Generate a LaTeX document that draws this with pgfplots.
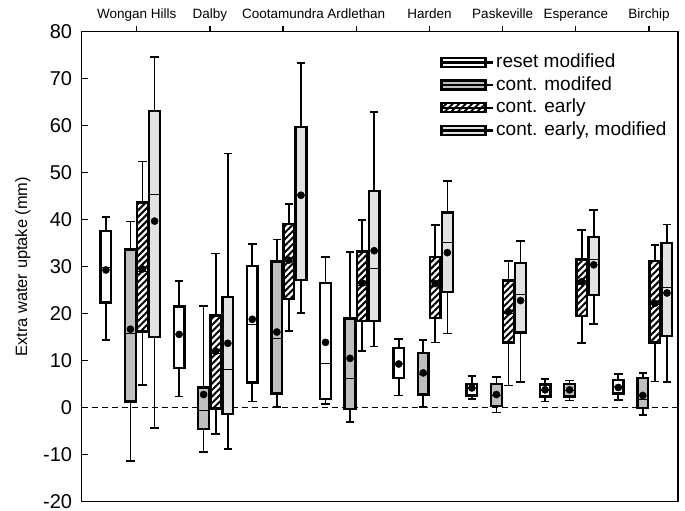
\documentclass[border=0pt]{standalone}
\usepackage{fontspec}
\setmainfont{Liberation Sans}
\usepackage{pgfplots}
\pgfplotsset{compat=1.18}
\usepgfplotslibrary{statistics}
\usetikzlibrary{patterns.meta}
\definecolor{gmid}{HTML}{BEBEBE}
\definecolor{glight}{HTML}{E2E2E2}
\pgfplotsset{
  rs/.style={draw=black, fill=white, line width=2.4pt},
  cm/.style={draw=black, fill=gmid, line width=2.4pt},
  ce/.style={draw=black, pattern={Lines[angle=45,distance=4.6pt,line width=2pt]}, pattern color=black, line width=2.4pt},
  cem/.style={draw=black, fill=glight, line width=2.4pt},
}
\newcommand{\bp}[7]{\addplot[#7, forget plot, boxplot prepared={draw position=#1, lower whisker=#2, lower quartile=#3, median=#4, upper quartile=#5, upper whisker=#6}] coordinates {};}
\begin{document}
\begin{tikzpicture}
\begin{axis}[name=ax,
  scale only axis, width=596.3pt, height=470pt,
  xmin=0.249, xmax=8.396, ymin=-20, ymax=80,
  xtick={1,...,8},
  xticklabels={Wongan Hills, Dalby, Cootamundra, Ardlethan, Harden, Paskeville, Esperance, Birchip},
  xtick pos=right, xticklabel pos=right,
  ytick={-20,-10,...,80}, ytick pos=left,
  minor tick num=0,
  tick align=inside, major tick length=6pt,
  xtick style={yshift=6pt, line width=1.3pt, black},
  ytick style={line width=1.3pt, black},
  axis line style={line width=1.3pt},
  /pgf/number format/assume math mode=true,
  xticklabel style={font=\fontsize{13.5}{16}\selectfont, anchor=base, inner sep=0pt, yshift=13.4pt},
  yticklabel style={font=\fontsize{20}{24}\selectfont, anchor=east, inner sep=0pt, xshift=-9.5pt},
  ylabel={Extra water uptake (mm)},
  ylabel style={font=\fontsize{16.4}{19}\selectfont, at={(axis description cs:-0.0917,0.5)}, anchor=base},
  boxplot/draw direction=y,
  boxplot/box extend=0.146,
  boxplot/every whisker/.style={line width=1.7pt},
  boxplot/every median/.style={line width=1pt},
  legend image code/.code={\draw[#1] (0pt,-4.5pt) rectangle (44pt,4.5pt); \path (0pt,0pt) -- (52pt,0pt);},
  legend style={at={(0.596,0.963)}, anchor=north west, draw=none, fill=none,
    font=\fontsize{19}{22}\selectfont, row sep=0pt,
    nodes={inner sep=1.5pt, text height=15pt, text depth=4.6pt}},
  legend cell align=left,
  clip=false,
]
\addlegendimage{rs}
\addlegendentry{reset modified}
\addlegendimage{cm}
\addlegendentry{cont. modifed}
\addlegendimage{ce}
\addlegendentry{cont. early}
\addlegendimage{cem}
\addlegendentry{cont. early, modified}

\addplot[forget plot, black, line width=1pt, dash pattern=on 6pt off 4pt] coordinates {(0.249,0) (8.396,0)};

% means of cont. early (drawn beneath the hatching)
\addplot[forget plot, only marks, mark=*, mark size=3.6pt, black] coordinates {
(1.08,29.5) (2.08,12.0) (3.08,31.4) (4.08,26.5) (5.08,26.4) (6.08,20.4) (7.08,26.8) (8.08,22.2)};

% reset modified
\bp{0.58}{14.4}{22.4}{29.9}{37.6}{40.6}{rs}
\bp{1.58}{2.4}{8.4}{15.5}{21.5}{27.0}{rs}
\bp{2.58}{1.3}{5.4}{17.8}{30.2}{34.8}{rs}
\bp{3.58}{0.8}{1.8}{9.3}{26.5}{32.0}{rs}
\bp{4.58}{2.6}{6.3}{9.3}{12.7}{14.6}{rs}
\bp{5.58}{1.8}{2.6}{4.0}{5.1}{6.8}{rs}
\bp{6.58}{1.3}{2.4}{3.7}{4.9}{6.1}{rs}
\bp{7.58}{1.7}{3.0}{4.5}{5.9}{7.2}{rs}
% cont. modifed
\bp{0.915}{-11.4}{1.3}{15.7}{33.7}{39.6}{cm}
\bp{1.915}{-9.5}{-4.5}{-0.6}{4.3}{21.7}{cm}
\bp{2.915}{0.1}{3.0}{14.8}{31.1}{35.8}{cm}
\bp{3.915}{-3.0}{-0.3}{6.3}{19.0}{33.2}{cm}
\bp{4.915}{0.1}{2.8}{7.0}{11.6}{14.4}{cm}
\bp{5.915}{-1.0}{0.4}{2.5}{5.0}{6.5}{cm}
\bp{6.915}{1.5}{2.4}{3.7}{5.0}{5.8}{cm}
\bp{7.915}{-1.5}{-0.1}{1.7}{6.3}{7.4}{cm}
% cont. early
\bp{1.08}{4.9}{16.2}{29.0}{43.7}{52.4}{ce}
\bp{2.08}{-5.6}{-0.2}{11.5}{19.6}{32.8}{ce}
\bp{3.08}{16.3}{23.1}{31.0}{39.1}{43.4}{ce}
\bp{4.08}{12.0}{18.4}{26.0}{33.2}{39.9}{ce}
\bp{5.08}{13.9}{19.1}{26.0}{32.1}{38.9}{ce}
\bp{6.08}{4.7}{13.9}{20.0}{27.1}{31.2}{ce}
\bp{7.08}{13.7}{19.5}{27.0}{31.5}{37.8}{ce}
\bp{8.08}{5.6}{13.9}{22.0}{31.2}{34.6}{ce}
% cont. early, modified
\bp{1.245}{-4.3}{15.1}{45.4}{63.1}{74.6}{cem}
\bp{2.245}{-8.8}{-1.3}{8.2}{23.6}{54.1}{cem}
\bp{3.245}{20.2}{27.2}{45.2}{59.7}{73.3}{cem}
\bp{4.245}{13.0}{18.5}{29.7}{46.1}{62.9}{cem}
\bp{5.245}{15.8}{24.6}{35.1}{41.5}{48.3}{cem}
\bp{6.245}{5.4}{16.0}{24.0}{30.8}{35.5}{cem}
\bp{7.245}{17.8}{24.0}{31.6}{36.3}{42.0}{cem}
\bp{8.245}{5.4}{15.3}{25.5}{35.1}{39.0}{cem}

% means
\addplot[forget plot, only marks, mark=*, mark size=3.6pt, black] coordinates {
(0.58,29.3) (1.58,15.6) (2.58,18.8) (3.58,13.9) (4.58,9.3) (5.58,4.2) (6.58,3.8) (7.58,4.3)};
\addplot[forget plot, only marks, mark=*, mark size=3.6pt, black] coordinates {
(0.915,16.7) (1.915,2.8) (2.915,16.1) (3.915,10.5) (4.915,7.4) (5.915,2.8) (6.915,3.8) (7.915,2.6)};
\addplot[forget plot, only marks, mark=*, mark size=3.6pt, black] coordinates {
(1.245,39.7) (2.245,13.7) (3.245,45.2) (4.245,33.4) (5.245,33.0) (6.245,22.8) (7.245,30.4) (8.245,24.4)};
\end{axis}
\pgfresetboundingbox
\path[use as bounding box] ([shift={(-81.7pt,-9.3pt)}]ax.south west) rectangle ([shift={(7pt,31.7pt)}]ax.north east);
\end{tikzpicture}
\end{document}
